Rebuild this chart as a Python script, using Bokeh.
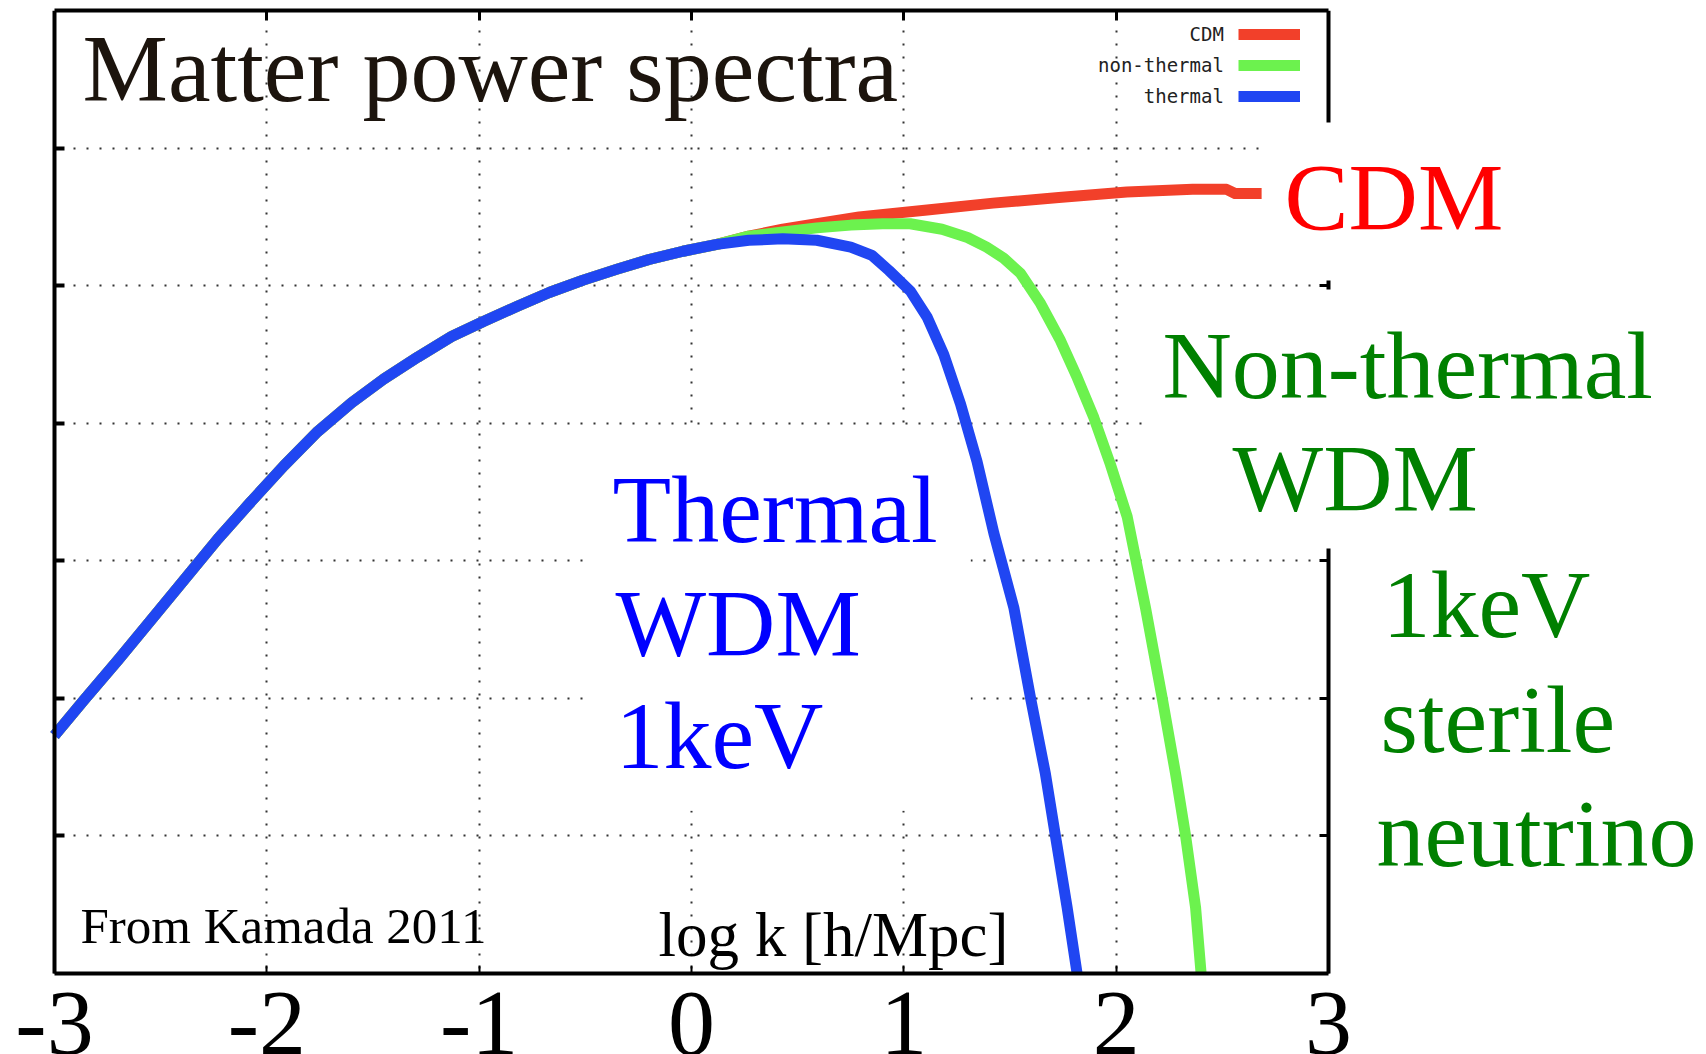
from bokeh.plotting import figure
from bokeh.models import Range1d, FixedTicker, LinearAxis, Label, BoxAnnotation, Legend, LegendItem
from bokeh.core.properties import value
from bokeh.embed import file_html
from bokeh.resources import INLINE

# ---------------- data ----------------
# log k [h/Mpc] and log P (arbitrary units, one grid step = one unit)
common_k = [-3.00, -2.86, -2.70, -2.55, -2.39, -2.23, -2.08, -1.92, -1.76, -1.60,
            -1.45, -1.29, -1.13, -0.98, -0.82, -0.67, -0.51, -0.35, -0.20, -0.04, 0.12]
common_p = [1.73, 1.99, 2.28, 2.56, 2.86, 3.16, 3.42, 3.69, 3.94, 4.15,
            4.32, 4.48, 4.63, 4.74, 4.85, 4.95, 5.04, 5.12, 5.19, 5.25, 5.30]

cdm_tail_k = [0.27, 0.43, 0.59, 0.79, 1.11, 1.42, 1.73, 2.05, 2.36, 2.52, 2.56, 2.685]
cdm_tail_p = [5.36, 5.41, 5.45, 5.50, 5.55, 5.60, 5.64, 5.68, 5.70, 5.70, 5.67, 5.67]

nonthermal_tail_k = [0.27, 0.43, 0.59, 0.75, 0.90, 1.03, 1.18, 1.30, 1.39, 1.47, 1.549,
                     1.644, 1.738, 1.817, 1.895, 1.973, 2.052, 2.138, 2.217, 2.280,
                     2.327, 2.374, 2.40]
nonthermal_tail_p = [5.36, 5.39, 5.42, 5.44, 5.45, 5.45, 5.41, 5.35, 5.28, 5.20, 5.09,
                     4.87, 4.60, 4.33, 4.04, 3.70, 3.32, 2.66, 2.00, 1.45,
                     1.00, 0.48, 0.00]

thermal_tail_k = [0.27, 0.43, 0.59, 0.75, 0.85, 0.93, 1.031, 1.110, 1.188, 1.267, 1.345,
                  1.424, 1.518, 1.597, 1.667, 1.714, 1.769, 1.816]
thermal_tail_p = [5.33, 5.34, 5.33, 5.28, 5.22, 5.11, 4.96, 4.77, 4.50, 4.14, 3.72,
                  3.20, 2.66, 2.00, 1.45, 1.00, 0.48, 0.00]

cdm_k = common_k + cdm_tail_k
cdm_p = common_p + cdm_tail_p
nonthermal_k = common_k + nonthermal_tail_k
nonthermal_p = common_p + nonthermal_tail_p
thermal_k = common_k + thermal_tail_k
thermal_p = common_p + thermal_tail_p

series_names = ["CDM", "non-thermal", "thermal"]
series_colors = ["#f2402a", "#6cf24e", "#2046f2"]

x_ticks = [-3, -2, -1, 0, 1, 2, 3]
x_tick_labels = ["-3", "-2", "-1", "0", "1", "2", "3"]
top_ticks = [-2, -1, 0, 1, 2]
y_ticks = [1, 2, 3, 4, 5, 6]

SERIF = "Liberation Serif"
PX_X = 212.333   # pixels per unit of log k
PX_Y = 137.571   # pixels per grid step
X0 = -3 - 54 / PX_X
X1 = 3 + 378 / PX_X
Y0 = -81 / PX_Y

# ---------------- figure ----------------
# the frame covers the whole canvas (so that texts outside the box are not clipped);
# the box itself is drawn by axes at fixed locations, and white masks hide the grid outside it.
p = figure(width=1706, height=1054,
           x_range=Range1d(X0, X1), y_range=Range1d(Y0, 7),
           x_axis_location="below", y_axis_location=None,
           output_backend="svg", toolbar_location=None,
           min_border_left=0, min_border_right=0, min_border_top=10, min_border_bottom=0,
           outline_line_color=None, background_fill_color="white", border_fill_color="white")

p.ygrid[0].ticker = FixedTicker(ticks=y_ticks)
for g in (p.xgrid[0], p.ygrid[0]):
    g.grid_line_color = "#333333"
    g.grid_line_width = 2
    g.grid_line_dash = "2 11"
    g.grid_line_dash_offset = 5

masks = [BoxAnnotation(left=X0 - 1, right=X1 + 1, bottom=Y0 - 1, top=0),
         BoxAnnotation(left=X0 - 1, right=-3, bottom=Y0 - 1, top=8),
         BoxAnnotation(left=3, right=X1 + 1, bottom=Y0 - 1, top=8)]
for mask in masks:
    mask.fill_color = "white"
    mask.fill_alpha = 1.0
    mask.line_color = None
    mask.level = "underlay"
    p.add_layout(mask)

# bottom axis (fixed at y = 0)
xa = p.xaxis[0]
xa.fixed_location = 0
xa.ticker = FixedTicker(ticks=x_ticks)
xa.major_label_overrides = {t: s for t, s in zip(x_ticks, x_tick_labels)}
xa.major_label_text_font = SERIF
xa.major_label_text_font_size = "94px"
xa.major_label_text_color = "black"
xa.major_label_standoff = 20
xa.major_tick_in = 8
xa.major_tick_out = 0
xa.major_tick_line_width = 2
xa.minor_tick_line_color = None
xa.axis_line_width = 4
xa.axis_line_color = "black"
xa.bounds = (-3, 3)

def border_axis(ticks, loc, tick_in, tick_out, tick_width):
    return LinearAxis(ticker=FixedTicker(ticks=ticks), fixed_location=loc,
                      major_label_overrides={t: "" for t in ticks},
                      major_label_text_font_size="1px", major_label_standoff=0,
                      major_tick_in=tick_in, major_tick_out=tick_out,
                      major_tick_line_width=tick_width, minor_tick_line_color=None,
                      axis_line_width=4, axis_line_color="black")

# left border: an axis at x = -3 whose ticks point into the box (+x)
left = border_axis(y_ticks, -3, 0, 10, 4)
left.bounds = (0, 7)
p.add_layout(left, "right")

# right border: at x = 3, ticks pointing into the box (-x)
right = border_axis(y_ticks, 3, 9, 0, 3)
right.bounds = (0, 7)
p.add_layout(right, "right")

# top border
top = border_axis(top_ticks, None, 10, 0, 3)
top.bounds = (-3, 3)
p.add_layout(top, "above")

# ---------------- curves ----------------
r_cdm = p.line(cdm_k, cdm_p, line_color=series_colors[0], line_width=11, line_join="round")
r_nt = p.line(nonthermal_k, nonthermal_p, line_color=series_colors[1], line_width=11, line_join="round")
r_th = p.line(thermal_k, thermal_p, line_color=series_colors[2], line_width=11, line_join="round")
renderers = [r_cdm, r_nt, r_th]

# legend: texts (right-aligned with no-break spaces in a monospace font) left of the swatches
width = max(len(n) for n in series_names)
text_legend = Legend(items=[LegendItem(label=value("\u00a0" * (width - len(n)) + n), renderers=[r])
                            for n, r in zip(series_names, renderers)],
                     location=(1098, 947), glyph_width=0, glyph_height=22, label_height=22,
                     label_standoff=0, spacing=9, padding=0, margin=0,
                     label_text_font="DejaVu Sans Mono", label_text_font_size="19px",
                     label_text_color="#222222", border_line_color=None, background_fill_alpha=0)
swatch_legend = Legend(items=[LegendItem(label=value("\u00a0"), renderers=[r]) for r in renderers],
                       location=(1238, 947), glyph_width=62, glyph_height=22, label_height=22,
                       label_standoff=0, spacing=9, padding=0, margin=0,
                       label_text_font_size="19px", border_line_color=None, background_fill_alpha=0)
p.add_layout(text_legend)
p.add_layout(swatch_legend)

# ---------------- annotations ----------------
def lab(text, xl, yb, color, size=96, pad=None, level="annotation"):
    """xl: left end of the text, yb: its baseline (data units)."""
    pl, pr, pt, pb = pad if pad else (0, 0, 0, 0)
    kw = dict(x=xl - pl / PX_X, y=yb + (0.3375 * size - (pb - pt) / 2) / PX_Y,
              text=text, text_color=color, text_font=SERIF,
              text_font_size=f"{size}px", text_baseline="alphabetic", text_align="left",
              level=level)
    if pad:
        kw.update(background_fill_color="white", background_fill_alpha=1.0,
                  padding=dict(left=pl, right=pr, top=pt, bottom=pb))
    p.add_layout(Label(**kw))

lab("Matter power spectra", -2.868, 6.346, "#1c140d")
lab("From Kamada 2011", -2.878, 0.218, "black", size=51)
lab("log k [h/Mpc]", -0.155, 0.124, "black", size=63)

# thermal block: white box over the grid, under the curves
lab("Thermal", -0.372, 3.140, "#0000ff", pad=(25, 33, 25, 248), level="underlay")
lab("WDM", -0.358, 2.312, "#0000ff", level="underlay")
lab("1keV", -0.358, 1.497, "#0000ff", level="underlay")

# CDM and non-thermal boxes cover the right frame line
lab("CDM", 2.793, 5.408, "#ff0000", pad=(22, 10, 21, 30))
lab("Non-thermal", 2.218, 4.187, "#008000", pad=(20, 10, 22, 130))
lab("WDM", 2.548, 3.366, "#008000")
lab("1keV", 3.254, 2.450, "#008000")
lab("sterile", 3.245, 1.614, "#008000")
lab("neutrino", 3.226, 0.785, "#008000")

open("out.html", "w").write(file_html(p, INLINE))
